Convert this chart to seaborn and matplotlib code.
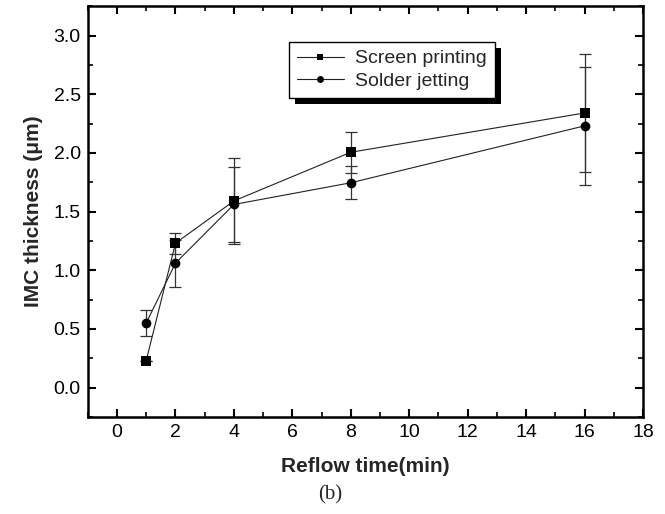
import matplotlib
matplotlib.use("Agg")
import matplotlib.pyplot as plt
import seaborn as sns
import pandas as pd
from matplotlib.patches import Rectangle
from matplotlib.transforms import IdentityTransform
from matplotlib.ticker import MultipleLocator

reflow_time = [1, 2, 4, 8, 16]
screen_printing = [0.23, 1.23, 1.59, 2.005, 2.34]
screen_printing_err = [0.0, 0.09, 0.37, 0.175, 0.50]
solder_jetting = [0.55, 1.06, 1.56, 1.745, 2.23]
solder_jetting_err = [0.11, 0.20, 0.32, 0.14, 0.50]
series_names = ["Screen printing", "Solder jetting"]

sns.set_style("ticks")
plt.rcParams["font.family"] = ["Liberation Sans", "DejaVu Sans"]
plt.rcParams["xtick.direction"] = "in"
plt.rcParams["ytick.direction"] = "in"

df = pd.DataFrame({
    "time": reflow_time * 2,
    "thick": screen_printing + solder_jetting,
    "method": [series_names[0]] * 5 + [series_names[1]] * 5,
})

fig = plt.figure(figsize=(6.65, 5.14), dpi=100)
ax = fig.add_axes([0.132, 0.189, 0.835, 0.799])

# error bars
ax.errorbar(reflow_time, screen_printing, yerr=screen_printing_err, fmt="none",
            ecolor="#333333", elinewidth=0.9, capsize=4, capthick=0.9, zorder=2)
ax.errorbar(reflow_time, solder_jetting, yerr=solder_jetting_err, fmt="none",
            ecolor="#333333", elinewidth=0.9, capsize=4, capthick=0.9, zorder=2)

sns.lineplot(data=df, x="time", y="thick", style="method",
             markers={series_names[0]: "s", series_names[1]: "o"},
             dashes=False, color="#222222", linewidth=0.8, markersize=7,
             markeredgewidth=0, markerfacecolor="black", ax=ax, zorder=3)

ax.set_xlim(-1, 18)
ax.set_ylim(-0.25, 3.25)
ax.xaxis.set_major_locator(MultipleLocator(2))
ax.xaxis.set_minor_locator(MultipleLocator(1))
ax.yaxis.set_major_locator(MultipleLocator(0.5))
ax.yaxis.set_minor_locator(MultipleLocator(0.25))
ax.set_yticks([0, 0.5, 1.0, 1.5, 2.0, 2.5, 3.0])
ax.set_yticklabels(["0.0", "0.5", "1.0", "1.5", "2.0", "2.5", "3.0"])
ax.tick_params(which="major", length=6, width=1.5, labelsize=14, top=True, right=True,
               color="black", labelcolor="black", pad=5)
ax.tick_params(which="minor", length=3.5, width=1.2, top=True, right=True, color="black")
for s in ax.spines.values():
    s.set_visible(True)
    s.set_linewidth(1.8)
    s.set_color("black")

ax.set_xlabel("Reflow time(min)", fontsize=15, fontweight="bold", labelpad=12)
ax.set_ylabel("IMC thickness (\u03bcm)", fontsize=15, fontweight="bold", labelpad=8)

leg = ax.legend(loc="center", bbox_to_anchor=(0.548, 0.845), frameon=True, fancybox=False,
                edgecolor="black", framealpha=1, fontsize=14, handlelength=2.4,
                borderpad=0.4, labelspacing=0.25, handletextpad=0.6, title=None)
leg.get_frame().set_linewidth(1.0)
leg.set_zorder(6)
for h in leg.legend_handles:
    h.set_markersize(5)

fig.text(0.497, 0.037, "(b)", ha="center", va="center", fontsize=15,
         family=["Liberation Serif", "DejaVu Serif"])

fig.canvas.draw()
bb = leg.get_window_extent()
shadow = Rectangle((bb.x0 + 6, bb.y0 - 6), bb.width, bb.height, transform=IdentityTransform(),
                   facecolor="black", edgecolor="none", zorder=5.5, clip_on=False)
ax.add_patch(shadow)

fig.savefig("out.png", dpi=100)
